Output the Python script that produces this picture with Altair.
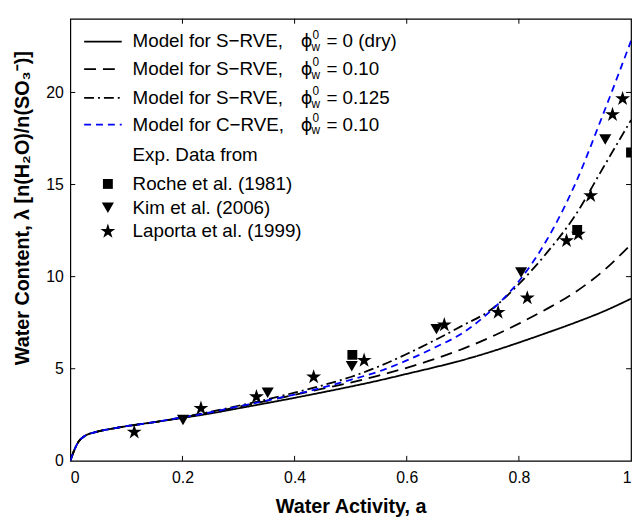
import altair as alt
import pandas as pd

FONT = "Liberation Sans"

# ---------------- data ----------------
X_CURVE = [0, 0.005, 0.01, 0.015, 0.025, 0.045, 0.075, 0.1, 0.15, 0.2, 0.25, 0.3,
           0.35, 0.4, 0.45, 0.5, 0.55, 0.6, 0.65, 0.7, 0.75, 0.8, 0.85, 0.9, 0.95, 1.0]
Y_S_DRY = [0, 0.42, 0.78, 1.05, 1.33, 1.56, 1.75, 1.88, 2.1, 2.33, 2.57, 2.85,
           3.13, 3.42, 3.72, 4.03, 4.36, 4.72, 5.08, 5.47, 5.92, 6.42, 6.95, 7.5, 8.1, 8.8]
Y_S_010 = [0, 0.42, 0.78, 1.05, 1.33, 1.56, 1.75, 1.88, 2.1, 2.35, 2.62, 2.93,
           3.25, 3.58, 3.92, 4.25, 4.63, 5.05, 5.53, 6.08, 6.72, 7.45, 8.25, 9.15, 10.3, 11.75]
Y_S_0125 = [0, 0.42, 0.78, 1.05, 1.33, 1.56, 1.75, 1.88, 2.1, 2.37, 2.66, 2.99,
            3.33, 3.7, 4.1, 4.55, 5.12, 5.8, 6.55, 7.35, 8.2, 9.6, 11.3, 13.3, 15.9, 18.5]
Y_C_010 = [0, 0.42, 0.78, 1.05, 1.33, 1.56, 1.75, 1.88, 2.1, 2.36, 2.63, 2.95,
           3.27, 3.6, 3.98, 4.4, 4.85, 5.45, 6.15, 6.95, 8.15, 9.75, 12.0, 15.0, 18.8, 22.8]

SERIES = ["S-RVE 0", "S-RVE 0.10", "S-RVE 0.125", "C-RVE 0.10"]
SERIES_PREFIX = ["Model for S\u2212RVE,", "Model for S\u2212RVE,", "Model for S\u2212RVE,", "Model for C\u2212RVE,"]
SERIES_PHI = ["= 0 (dry)", "= 0.10", "= 0.125", "= 0.10"]
COLORS = ["black", "black", "black", "#0000ff"]
DASHES = [[1, 0], [12, 7], [10, 4, 2, 4], [7, 5]]

ROCHE_A = [0.503, 0.904, 1.0]
ROCHE_L = [5.75, 12.53, 16.74]
KIM_A = [0.201, 0.352, 0.502, 0.653, 0.804, 0.954]
KIM_L = [2.22, 3.69, 5.14, 7.15, 10.23, 17.45]
LAPORTA_A = [0.114, 0.233, 0.332, 0.434, 0.524, 0.667, 0.763, 0.815, 0.885, 0.906, 0.928, 0.967, 0.985]
LAPORTA_L = [1.56, 2.85, 3.48, 4.55, 5.45, 7.38, 8.06, 8.84, 11.95, 12.3, 14.4, 18.8, 19.66]

SOURCES = ["Roche et al. (1981)", "Kim et al. (2006)", "Laporta et al. (1999)"]

X_TICKS = [0, 0.2, 0.4, 0.6, 0.8, 1]
Y_TICKS = [0, 5, 10, 15, 20]

STAR = ("M0,-1L0.2245,-0.309L0.951,-0.309L0.363,0.118L0.588,0.809L0,0.382"
        "L-0.588,0.809L-0.363,0.118L-0.951,-0.309L-0.2245,-0.309Z")
SHAPES = ["square", "triangle-down", STAR]
SIZES = [100, 150, 250]

# ---------------- layout ----------------
W, H = 567, 447

xscale = alt.Scale(domain=[0, 1], nice=False, zero=False)
yscale = alt.Scale(domain=[0, 24], nice=False, zero=False)

x_axis = alt.Axis(values=X_TICKS, format="~g", title="Water Activity, a", grid=False,
                  ticks=False, domain=False, labelPadding=9, labelFontSize=16,
                  labelColor="black", labelFont=FONT, titleFont=FONT, titleFontSize=20,
                  titleFontWeight="bold", titleColor="black", titleY=46,
                  titleBaseline="middle")
y_axis = alt.Axis(values=Y_TICKS, format="~g",
                  title="Water Content, \u03bb [n(H\u2082O)/n(SO\u2083\u207b)]",
                  grid=False, ticks=False, domain=False, labelPadding=7, labelFontSize=16,
                  labelColor="black", labelFont=FONT, titleFont=FONT, titleFontSize=20,
                  titleFontWeight="bold", titleColor="black", titleX=-48, titleY=191,
                  titleAngle=-90, titleBaseline="middle", titleAlign="center")

X_ENC = alt.X("a:Q", scale=xscale, axis=x_axis)
Y_ENC = alt.Y("lam:Q", scale=yscale, axis=y_axis)

rows = []
for name, ys in zip(SERIES, [Y_S_DRY, Y_S_010, Y_S_0125, Y_C_010]):
    for a, l in zip(X_CURVE, ys):
        rows.append({"a": a, "lam": l, "series": name})
curves_df = pd.DataFrame(rows)

lines = alt.Chart(curves_df).mark_line(strokeWidth=1.8, clip=True, interpolate="monotone").encode(
    x=X_ENC,
    y=Y_ENC,
    color=alt.Color("series:N", scale=alt.Scale(domain=SERIES, range=COLORS), legend=None),
    strokeDash=alt.StrokeDash("series:N", scale=alt.Scale(domain=SERIES, range=DASHES), legend=None),
    detail="series:N",
)

layers = [lines]

for src, xs, ys, shp, sz in zip(SOURCES, [ROCHE_A, KIM_A, LAPORTA_A], [ROCHE_L, KIM_L, LAPORTA_L], SHAPES, SIZES):
    df = pd.DataFrame({"a": xs, "lam": ys})
    layers.append(
        alt.Chart(df).mark_point(filled=True, clip=True, color="black", opacity=1,
                                 shape=shp, size=sz, strokeWidth=0).encode(x=X_ENC, y=Y_ENC)
    )

# inward ticks on all four sides
xt = pd.DataFrame({"a": X_TICKS[1:-1]})
yt = pd.DataFrame({"lam": Y_TICKS[1:]})
for y0, y1 in [(H, H - 5), (0, 5)]:
    layers.append(alt.Chart(xt).mark_rule(color="black", strokeWidth=1).encode(
        x=X_ENC, y=alt.value(y0), y2=alt.value(y1)))
for x0, x1 in [(0, 5), (W, W - 5)]:
    layers.append(alt.Chart(yt).mark_rule(color="black", strokeWidth=1).encode(
        y=Y_ENC, x=alt.value(x0), x2=alt.value(x1)))

# ---------------- manual legend ----------------
one = pd.DataFrame({"k": [0]})
LINE_ROWS = [23, 51, 80, 107]
LEG_FS = 19
for i, ry in enumerate(LINE_ROWS):
    layers.append(alt.Chart(one).mark_rule(color=COLORS[i], strokeDash=DASHES[i], strokeWidth=1.8).encode(
        x=alt.value(14), x2=alt.value(52), y=alt.value(ry)))
    layers.append(alt.Chart(one).mark_text(align="left", baseline="middle", fontSize=LEG_FS, font=FONT,
                                           color="black").encode(
        x=alt.value(63), y=alt.value(ry), text=alt.value(SERIES_PREFIX[i])))
    layers.append(alt.Chart(one).mark_text(align="left", baseline="middle", fontSize=18, font="DejaVu Sans",
                                           color="black").encode(
        x=alt.value(233), y=alt.value(ry + 1), text=alt.value("\u03d5")))
    layers.append(alt.Chart(one).mark_text(align="left", baseline="middle", fontSize=12, font=FONT,
                                           color="black").encode(
        x=alt.value(245), y=alt.value(ry - 7), text=alt.value("0")))
    layers.append(alt.Chart(one).mark_text(align="left", baseline="middle", fontSize=12, font=FONT,
                                           color="black").encode(
        x=alt.value(244), y=alt.value(ry + 6), text=alt.value("w")))
    layers.append(alt.Chart(one).mark_text(align="left", baseline="middle", fontSize=LEG_FS, font=FONT,
                                           color="black").encode(
        x=alt.value(259), y=alt.value(ry), text=alt.value(SERIES_PHI[i])))

layers.append(alt.Chart(one).mark_text(align="left", baseline="middle", fontSize=LEG_FS, font=FONT,
                                       color="black").encode(
    x=alt.value(63), y=alt.value(138), text=alt.value("Exp. Data from")))

PT_ROWS = [167, 191, 215]
for i, ry in enumerate(PT_ROWS):
    layers.append(alt.Chart(one).mark_point(filled=True, color="black", opacity=1, shape=SHAPES[i],
                                            size=SIZES[i], strokeWidth=0).encode(
        x=alt.value(38), y=alt.value(ry)))
    layers.append(alt.Chart(one).mark_text(align="left", baseline="middle", fontSize=LEG_FS, font=FONT,
                                           color="black").encode(
        x=alt.value(63), y=alt.value(ry), text=alt.value(SOURCES[i])))

chart = alt.layer(*layers).properties(
    width=W, height=H,
    autosize=alt.AutoSizeParams(type="none"),
    padding={"left": 63, "top": 8, "right": 2, "bottom": 62},
    background="white",
).configure_view(stroke="black", strokeWidth=1.2)

chart.save("out.html", embed_options={"renderer": "svg", "actions": False})
